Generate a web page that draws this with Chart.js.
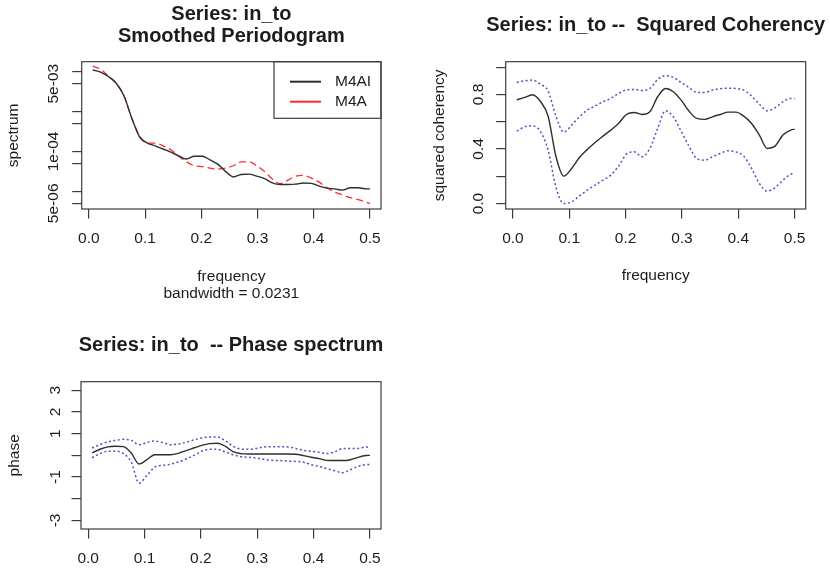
<!DOCTYPE html>
<html>
<head>
<meta charset="utf-8">
<script src="https://cdn.jsdelivr.net/npm/chart.js@4/dist/chart.umd.min.js"></script>
<style>
  body { margin: 0; background: #fff; }
  #wrap { position: relative; width: 830px; height: 570px; }
  canvas { position: absolute; }
</style>
</head>
<body>
<div id="wrap">
  <canvas id="spec" width="415" height="320" style="left:0;top:0"></canvas>
  <canvas id="coh" width="415" height="320" style="left:415px;top:0"></canvas>
  <canvas id="phase" width="415" height="250" style="left:0;top:320px"></canvas>
</div>
<script>
"use strict";
// frequencies (every other Fourier frequency, plus 0.5)
const freq = [0.0069, 0.0208, 0.0347, 0.0486, 0.0625, 0.0764, 0.0903, 0.1042, 0.1181, 0.1319,
    0.1458, 0.1597, 0.1736, 0.1875, 0.2014, 0.2153, 0.2292, 0.2431, 0.2569, 0.2708,
    0.2847, 0.2986, 0.3125, 0.3264, 0.3403, 0.3542, 0.3681, 0.3819, 0.3958, 0.4097,
    0.4236, 0.4375, 0.4514, 0.4653, 0.4792, 0.4931, 0.5];
// smoothed periodogram, one per series
const specM4AI = [1.10e-2, 9.77e-3, 7.59e-3, 5.13e-3, 2.45e-3, 6.76e-4, 2.29e-4, 1.62e-4, 1.38e-4, 1.15e-4,
    9.55e-5, 7.76e-5, 6.46e-5, 7.59e-5, 7.59e-5, 6.17e-5, 4.79e-5, 3.16e-5, 2.29e-5, 2.63e-5,
    2.69e-5, 2.40e-5, 2.09e-5, 1.62e-5, 1.48e-5, 1.48e-5, 1.51e-5, 1.62e-5, 1.58e-5, 1.35e-5,
    1.20e-5, 1.15e-5, 1.07e-5, 1.23e-5, 1.23e-5, 1.15e-5, 1.15e-5];
const specM4A = [1.38e-2, 1.15e-2, 7.76e-3, 5.13e-3, 2.45e-3, 6.76e-4, 2.45e-4, 1.62e-4, 1.62e-4, 1.38e-4,
    1.10e-4, 7.59e-5, 5.50e-5, 4.37e-5, 4.17e-5, 3.80e-5, 3.63e-5, 3.80e-5, 4.37e-5, 5.50e-5,
    5.50e-5, 4.37e-5, 3.16e-5, 2.04e-5, 1.55e-5, 1.91e-5, 2.40e-5, 2.51e-5, 2.14e-5, 1.70e-5,
    1.23e-5, 9.55e-6, 8.13e-6, 6.92e-6, 6.17e-6, 5.37e-6, 4.90e-6];
// squared coherency with its confidence band
const coh = [0.761, 0.778, 0.798, 0.750, 0.640, 0.345, 0.201, 0.257, 0.338, 0.396,
    0.448, 0.494, 0.538, 0.587, 0.653, 0.668, 0.653, 0.673, 0.783, 0.844,
    0.820, 0.758, 0.678, 0.624, 0.617, 0.636, 0.653, 0.670, 0.670, 0.641,
    0.587, 0.502, 0.404, 0.421, 0.502, 0.538, 0.546];
const cohUpper = [0.888, 0.900, 0.905, 0.876, 0.825, 0.640, 0.524, 0.575, 0.636, 0.685,
    0.714, 0.746, 0.771, 0.807, 0.834, 0.837, 0.829, 0.844, 0.910, 0.937,
    0.925, 0.888, 0.851, 0.815, 0.815, 0.832, 0.842, 0.846, 0.844, 0.832,
    0.788, 0.729, 0.680, 0.702, 0.746, 0.771, 0.771];
const cohLower = [0.531, 0.563, 0.570, 0.530, 0.390, 0.120, 0.000, 0.012, 0.056, 0.098,
    0.135, 0.171, 0.208, 0.274, 0.362, 0.379, 0.343, 0.404, 0.550, 0.680,
    0.636, 0.531, 0.421, 0.330, 0.318, 0.343, 0.367, 0.387, 0.379, 0.347,
    0.257, 0.147, 0.091, 0.117, 0.171, 0.215, 0.222];
// phase spectrum with its confidence band
const phase = [0.11, 0.28, 0.39, 0.42, 0.40, 0.11, -0.40, -0.20, 0.03, 0.03,
    0.03, 0.09, 0.22, 0.34, 0.46, 0.54, 0.56, 0.42, 0.17, 0.08,
    0.06, 0.06, 0.06, 0.06, 0.06, 0.06, 0.05, -0.01, -0.09, -0.15,
    -0.23, -0.24, -0.24, -0.20, -0.09, -0.01, 0.00];
const phaseUpper = [0.34, 0.49, 0.62, 0.69, 0.74, 0.69, 0.49, 0.59, 0.66, 0.59,
    0.49, 0.52, 0.60, 0.71, 0.80, 0.85, 0.85, 0.68, 0.42, 0.29,
    0.28, 0.32, 0.39, 0.40, 0.40, 0.39, 0.32, 0.23, 0.19, 0.14,
    0.08, 0.16, 0.31, 0.31, 0.32, 0.39, 0.39];
const phaseLower = [-0.11, 0.08, 0.19, 0.19, 0.08, -0.31, -1.28, -0.92, -0.54, -0.46,
    -0.41, -0.31, -0.17, 0.00, 0.19, 0.28, 0.28, 0.16, 0.03, -0.06,
    -0.09, -0.12, -0.18, -0.23, -0.24, -0.26, -0.28, -0.31, -0.43, -0.51,
    -0.61, -0.71, -0.80, -0.66, -0.51, -0.43, -0.42];

const freqTicks = [0, 0.1, 0.2, 0.3, 0.4, 0.5];
const specTicks = [1e-2, 5e-3, 1e-3, 5e-4, 1e-4, 5e-5, 1e-5, 5e-6];
const specLabels = [5e-3, 1e-4, 5e-6];
const cohTicks = [0, 0.2, 0.4, 0.6, 0.8, 1.0];
const cohLabels = [0, 0.4, 0.8];
const phaseTicks = [-3, -2, -1, 0, 1, 2, 3];
const phaseLabels = [-3, -1, 1, 2, 3];

const FONT = "'Liberation Sans', Arial, sans-serif";
const INK = '#1c1c1c';
const AXIS = '#3c3c3c';
const BAND = '#5050c8';

const pts = (ys) => freq.map((f, i) => ({ x: f, y: ys[i] }));
const sci = (v) => {
    const [m, e] = v.toExponential(0).split('e');
    return `${m}e${+e < 0 ? '-' : '+'}${String(Math.abs(+e)).padStart(2, '0')}`;
};

// box around the plotting region
const frame = {
    id: 'frame',
    afterDraw(chart) {
        const { ctx, chartArea: a } = chart;
        ctx.save();
        ctx.strokeStyle = AXIS;
        ctx.lineWidth = 1.2;
        ctx.strokeRect(a.left, a.top, a.right - a.left, a.bottom - a.top);
        ctx.restore();
    }
};

// bold main title centred over the plotting region, one baseline per line
function mainTitle(lines, centres) {
    return {
        id: 'mainTitle',
        afterDraw(chart) {
            const { ctx, chartArea: a } = chart;
            ctx.save();
            ctx.font = `bold 20px ${FONT}`;
            ctx.fillStyle = INK;
            ctx.textAlign = 'center';
            ctx.textBaseline = 'middle';
            lines.forEach((t, i) => ctx.fillText(t, (a.left + a.right) / 2, centres[i]));
            ctx.restore();
        }
    };
}

// y tick labels written parallel to the axis
function sideLabels(values, fmt, gap) {
    return {
        id: 'sideLabels',
        afterDraw(chart) {
            const { ctx, chartArea } = chart;
            const scale = chart.scales.y;
            ctx.save();
            ctx.font = `15.5px ${FONT}`;
            ctx.fillStyle = INK;
            ctx.textAlign = 'center';
            ctx.textBaseline = 'alphabetic';
            values.forEach(v => {
                ctx.save();
                ctx.translate(chartArea.left - gap, scale.getPixelForValue(v));
                ctx.rotate(-Math.PI / 2);
                ctx.fillText(fmt(v), 0, 0);
                ctx.restore();
            });
            ctx.restore();
        }
    };
}

// boxed legend in the top right corner of the periodogram
const legendBox = {
    id: 'legendBox',
    afterDraw(chart) {
        const { ctx, chartArea: a } = chart;
        const w = 107, h = 56.6;
        const x0 = a.right - w, y0 = a.top;
        ctx.save();
        ctx.strokeStyle = AXIS;
        ctx.lineWidth = 1.2;
        ctx.strokeRect(x0, y0, w, h);
        ctx.font = `15.5px ${FONT}`;
        ctx.textBaseline = 'middle';
        chart.data.datasets.forEach((ds, i) => {
            const y = y0 + 20 + i * 20;
            ctx.strokeStyle = ds.borderColor;
            ctx.lineWidth = 2;
            ctx.beginPath();
            ctx.moveTo(x0 + 16, y);
            ctx.lineTo(x0 + 47, y);
            ctx.stroke();
            ctx.fillStyle = INK;
            ctx.fillText(ds.label, x0 + 61, y);
        });
        ctx.restore();
    }
};

const tickGrid = { drawOnChartArea: false, drawTicks: true, tickLength: 9.5, color: AXIS, lineWidth: 1.2 };

function xAxis(height, title) {
    return {
        type: 'linear',
        bounds: 'data',
        min: -0.0128,
        max: 0.5197,
        afterBuildTicks: s => { s.ticks = freqTicks.map(v => ({ value: v })); },
        afterFit: s => { s.height = height; s.paddingLeft = 0; s.paddingRight = 0; },
        grid: tickGrid,
        border: { display: false },
        ticks: {
            autoSkip: false, maxRotation: 0, padding: 10.5, color: INK,
            font: { family: FONT, size: 15.5 },
            callback: v => v.toFixed(1)
        },
        title: title
    };
}

function yAxis(width, extra, text, padTop) {
    return Object.assign({
        bounds: 'data',
        afterFit: s => { s.width = width; s.paddingTop = 0; s.paddingBottom = 0; },
        grid: tickGrid,
        border: { display: false },
        ticks: { display: false },
        title: {
            display: true, text: text, color: INK,
            font: { family: FONT, size: 15.5 },
            padding: { top: padTop, bottom: 0 }
        }
    }, extra);
}

function panel(id, right, scales, datasets, extras) {
    return new Chart(document.getElementById(id), {
        type: 'line',
        data: { datasets: datasets },
        options: {
            responsive: false,
            animation: false,
            devicePixelRatio: 1,
            layout: { padding: { top: 61.7, left: 0, bottom: 0, right: right } },
            elements: { point: { radius: 0 }, line: { cubicInterpolationMode: 'monotone' } },
            plugins: { legend: { display: false }, tooltip: { enabled: false }, title: { display: false } },
            scales: scales
        },
        plugins: [frame].concat(extras)
    });
}

function curve(label, ys, color, width, dash) {
    return { label: label, data: pts(ys), borderColor: color, borderWidth: width, borderDash: dash, fill: false };
}

// smoothed periodogram of both series
panel('spec', 34,
    {
        x: xAxis(111, {
            display: true, text: ['frequency', 'bandwidth = 0.0231'], color: INK,
            font: { family: FONT, size: 15.5, lineHeight: 1.07 },
            padding: { top: 0, bottom: 18.4 }
        }),
        y: yAxis(81.7, {
            type: 'logarithmic', min: 3.6e-6, max: 1.78e-2,
            afterBuildTicks: s => { s.ticks = specTicks.map(v => ({ value: v })); }
        }, 'spectrum', 4)
    },
    [
        curve('M4AI', specM4AI, '#2e2e2e', 1.4, []),
        curve('M4A', specM4A, '#ff2a2a', 1.3, [7, 4])
    ],
    [mainTitle(['Series: in_to', 'Smoothed Periodogram'], [14, 36.7]),
        sideLabels(specLabels, sci, 24), legendBox]);

// squared coherency
panel('coh', 24.3,
    {
        x: xAxis(111, {
            display: true, text: 'frequency', color: INK,
            font: { family: FONT, size: 15.5 },
            padding: { top: 0, bottom: 34.7 }
        }),
        y: yAxis(90.7, {
            type: 'linear', min: -0.04, max: 1.04,
            afterBuildTicks: s => { s.ticks = cohTicks.map(v => ({ value: v })); }
        }, 'squared coherency', 15.7)
    },
    [
        curve('coherency', coh, '#2e2e2e', 1.4, []),
        curve('upper', cohUpper, BAND, 1.5, [2, 2.5]),
        curve('lower', cohLower, BAND, 1.5, [2, 2.5])
    ],
    [mainTitle(['Series: in_to --  Squared Coherency'], [25]),
        sideLabels(cohLabels, v => v.toFixed(1), 22.5)]);

// phase spectrum
panel('phase', 34,
    {
        x: xAxis(41, { display: false }),
        y: yAxis(81, {
            type: 'linear', min: -3.393, max: 3.393,
            afterBuildTicks: s => { s.ticks = phaseTicks.map(v => ({ value: v })); }
        }, 'phase', 5.7)
    },
    [
        curve('phase', phase, '#2e2e2e', 1.4, []),
        curve('upper', phaseUpper, BAND, 1.5, [2, 2.5]),
        curve('lower', phaseLower, BAND, 1.5, [2, 2.5])
    ],
    [mainTitle(['Series: in_to  -- Phase spectrum'], [25]),
        sideLabels(phaseLabels, v => String(v), 21.5)]);
</script>
</body>
</html>
